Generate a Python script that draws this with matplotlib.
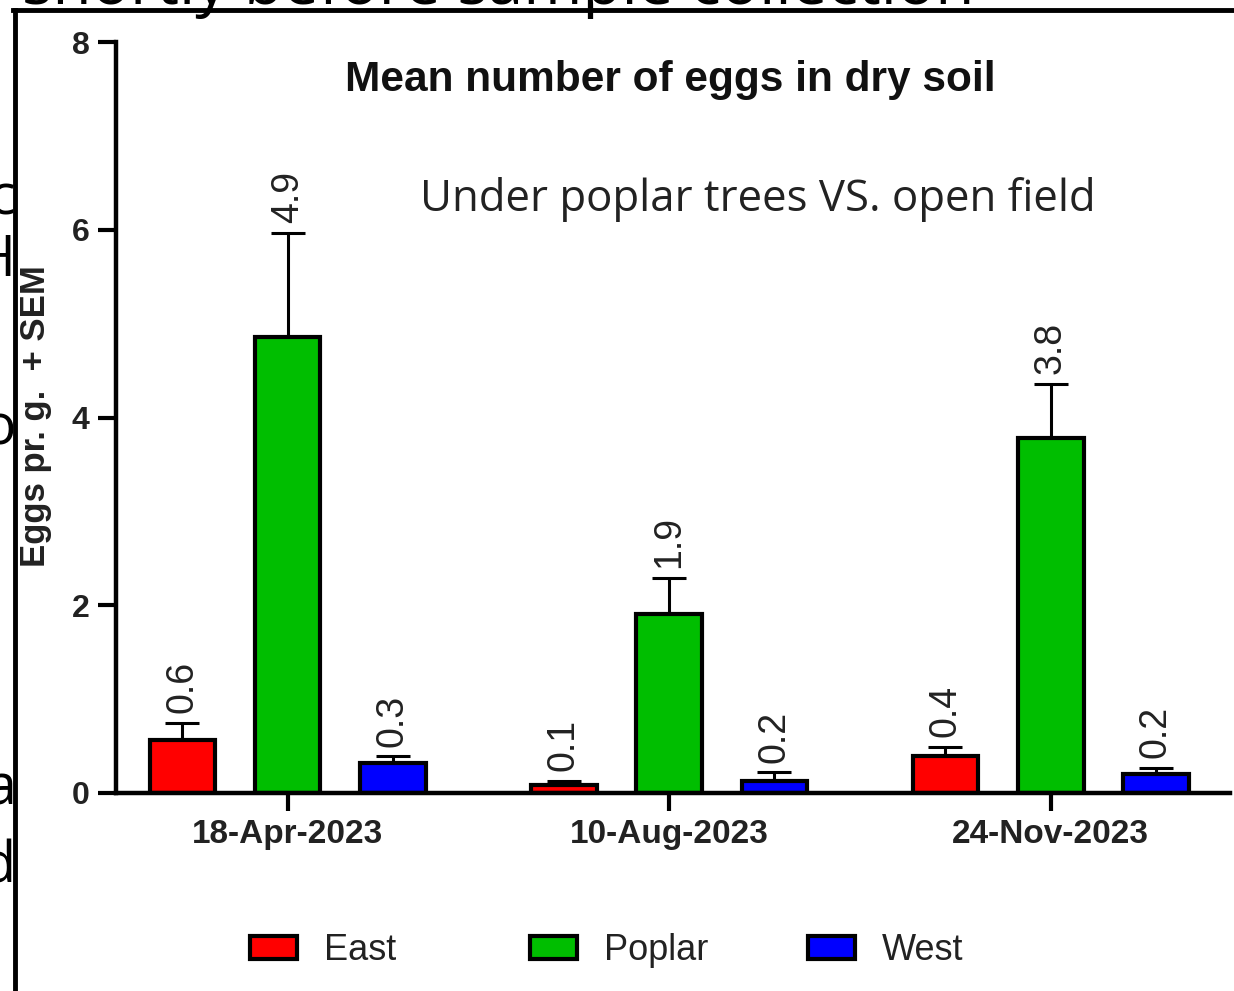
import matplotlib
matplotlib.use("Agg")
import matplotlib.pyplot as plt
from matplotlib.patches import Patch
import numpy as np

# sampling dates and sites
dates = ["18-Apr-2023", "10-Aug-2023", "24-Nov-2023"]
sites = ["East", "Poplar", "West"]
site_colors = ["#ff0000", "#00be00", "#0000ff"]

# mean eggs per gram and +SEM
east_mean = [0.56, 0.09, 0.39]
poplar_mean = [4.86, 1.91, 3.78]
west_mean = [0.32, 0.13, 0.20]
east_sem = [0.19, 0.04, 0.10]
poplar_sem = [1.11, 0.38, 0.58]
west_sem = [0.07, 0.09, 0.07]
east_lbl = ["0.6", "0.1", "0.4"]
poplar_lbl = ["4.9", "1.9", "3.8"]
west_lbl = ["0.3", "0.2", "0.2"]

W, H = 1234, 991
fig = plt.figure(figsize=(W / 100, H / 100), dpi=100)
ax = fig.add_axes([116 / W, 1 - 793 / H, (1230 - 116) / W, (793 - 42) / H])

x = np.arange(len(dates))
offsets = [-0.276, 0.0, 0.276]
width = 0.172
means = [east_mean, poplar_mean, west_mean]
sems = [east_sem, poplar_sem, west_sem]
labels = [east_lbl, poplar_lbl, west_lbl]

for i, site in enumerate(sites):
    pos = x + offsets[i]
    ax.bar(pos, means[i], width=width, color=site_colors[i], edgecolor="black",
           linewidth=3, label=site, zorder=2)
    ax.errorbar(pos, means[i], yerr=[np.zeros(len(pos)), sems[i]], fmt="none",
                ecolor="black", elinewidth=2.2, capsize=12, capthick=2.2, zorder=1)
    for p, m, s, t in zip(pos, means[i], sems[i], labels[i]):
        ax.annotate(t, (p, m + s), xytext=(0, 7), textcoords="offset points",
                    rotation=90, ha="center", va="bottom", fontsize=27,
                    family="Liberation Sans", color="#222222")

ax.set_xlim(-0.45, 2.47)
ax.set_ylim(0, 8)
ax.set_yticks([0, 2, 4, 6, 8])
ax.set_xticks(x)
ax.set_xticklabels(dates)
for sp in ["top", "right"]:
    ax.spines[sp].set_visible(False)
for sp in ["left", "bottom"]:
    ax.spines[sp].set_linewidth(3.2)
ax.tick_params(axis="both", direction="out", length=13, width=3, pad=6,
               labelsize=24)
ax.tick_params(axis="y", labelsize=23)
for lab in ax.get_xticklabels() + ax.get_yticklabels():
    lab.set_fontweight("bold")
    lab.set_family("Liberation Sans")
    lab.set_color("#222222")
ax.set_ylabel("Eggs pr. g.  + SEM", fontsize=25, fontweight="bold",
              family="Liberation Sans", color="#222222")
ax.yaxis.set_label_coords(-(116 - 52) / (1230 - 116), (793 - 416) / (793 - 42))

fig.text(670 / W, 1 - 80 / H, "Mean number of eggs in dry soil", ha="center",
         va="center", fontsize=30.5, fontweight="bold", family="Liberation Sans",
         color="#111111")
fig.text(758 / W, 1 - 200 / H, "Under poplar trees VS. open field", ha="center",
         va="center", fontsize=31.5, family="Open Sans", color="#222222")

# evenly spaced legend entries, one small legend each
legend_x = [250, 530, 808]
for site, col, lx in zip(sites, site_colors, legend_x):
    handle = Patch(facecolor=col, edgecolor="black", linewidth=3)
    leg = fig.legend([handle], [site], loc="center left",
                     bbox_to_anchor=(lx / W, 1 - 951 / H), frameon=False,
                     prop={"family": "Liberation Sans", "size": 26},
                     handlelength=1.3, handleheight=0.6, handletextpad=0.75,
                     borderpad=0, borderaxespad=0)
    for t in leg.get_texts():
        t.set_color("#222222")

# page border and clipped text of the surrounding page
fig.add_artist(plt.Line2D([13 / W, 1], [1 - 10 / H, 1 - 10 / H], color="black",
                          linewidth=3.5))
fig.add_artist(plt.Line2D([15 / W, 15 / W], [0, 1 - 10 / H], color="black",
                          linewidth=3.5))
fig.text(22 / W, 1 - 4 / H, "shortly before sample collection", ha="left",
         va="baseline", fontsize=46, family="Open Sans", color="black")
for ch, yp in [("c", 200), ("H", 262), ("o", 430), ("a", 790), ("d", 868)]:
    fig.text(16 / W, 1 - yp / H, ch, ha="right", va="center", fontsize=40,
             family="Open Sans", color="black")

fig.savefig("out.png", dpi=100)
